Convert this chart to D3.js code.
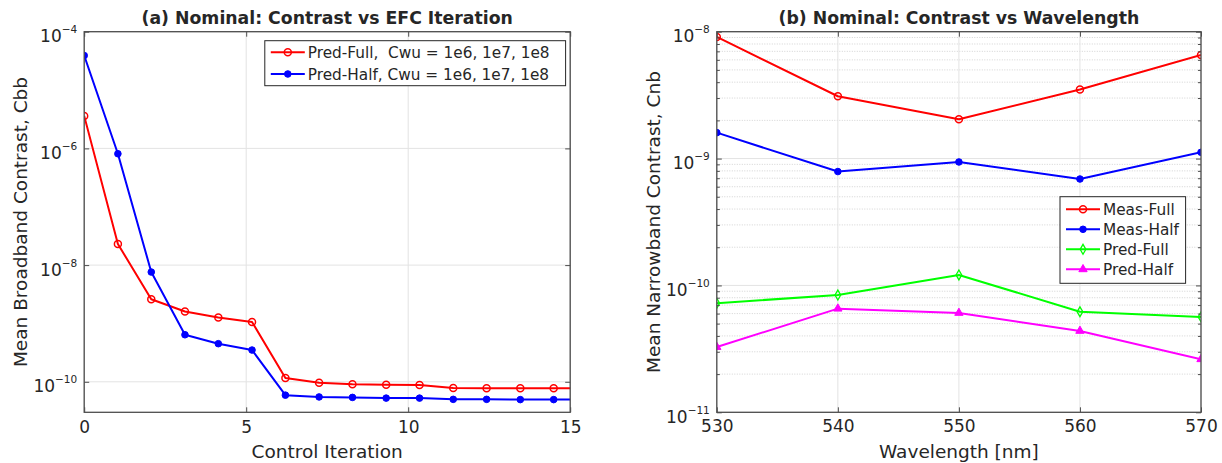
<!DOCTYPE html>
<html>
<head>
<meta charset="utf-8">
<script src="https://cdn.jsdelivr.net/npm/d3@7"></script>
<style>
body { margin: 0; background: #fff; }
svg text { font-family: "DejaVu Sans", Verdana, sans-serif; fill: #262626; }
</style>
</head>
<body>
<svg id="chart" width="1222" height="463"></svg>
<script>
// ---- panel (a): contrast vs EFC iteration ----
var iterations   = [0, 1.04, 2.07, 3.11, 4.14, 5.18, 6.21, 7.25, 8.28, 9.32, 10.35, 11.39, 12.42, 13.46, 14.49, 15.53];
var predFullIter = [3.6e-6, 2.3e-8, 2.6e-9, 1.6e-9, 1.26e-9, 1.06e-9, 1.16e-10, 9.6e-11, 9.1e-11, 8.9e-11, 8.8e-11, 7.8e-11, 7.75e-11, 7.75e-11, 7.75e-11, 7.75e-11];
var predHalfIter = [3.9e-5, 8.1e-7, 7.6e-9, 6.4e-10, 4.5e-10, 3.5e-10, 5.9e-11, 5.5e-11, 5.4e-11, 5.25e-11, 5.25e-11, 5.0e-11, 5.0e-11, 4.95e-11, 4.95e-11, 4.95e-11];
var iterTicks    = [0, 5, 10, 15];
var cbbTicks     = [1e-4, 1e-6, 1e-8, 1e-10];
var iterNames    = ["Pred-Full,  Cwu = 1e6, 1e7, 1e8", "Pred-Half, Cwu = 1e6, 1e7, 1e8"];

// ---- panel (b): contrast vs wavelength ----
var wavelengths = [530, 540, 550, 560, 570];
var measFull    = [9.1e-9, 3.1e-9, 2.04e-9, 3.5e-9, 6.55e-9];
var measHalf    = [1.6e-9, 7.9e-10, 9.4e-10, 6.9e-10, 1.12e-9];
var predFull    = [7.25e-11, 8.4e-11, 1.21e-10, 6.2e-11, 5.65e-11];
var predHalf    = [3.27e-11, 6.56e-11, 6.07e-11, 4.38e-11, 2.62e-11];
var waveTicks   = [530, 540, 550, 560, 570];
var cnbTicks    = [1e-8, 1e-9, 1e-10, 1e-11];
var waveNames   = ["Meas-Full", "Meas-Half", "Pred-Full", "Pred-Half"];

var svg = d3.select("#chart");
var axisColor = "#4d4d4d", gridColor = "#e3e3e3";

// marker painters
function drawMarker(g, type, color, x, y) {
    if (type == "circleOpen") {
        g.append("circle").attr("cx", x).attr("cy", y).attr("r", 3.5)
            .attr("fill", "none").attr("stroke", color).attr("stroke-width", 1.5);
    } else if (type == "circleFill") {
        g.append("circle").attr("cx", x).attr("cy", y).attr("r", 3.3)
            .attr("fill", color).attr("stroke", color);
    } else if (type == "diamond") {
        g.append("path").attr("d", d3.symbol(d3.symbolDiamond, 28)())
            .attr("transform", "translate(" + x + "," + y + ")")
            .attr("fill", "none").attr("stroke", color).attr("stroke-width", 1.3);
    } else if (type == "triangle") {
        g.append("path").attr("d", d3.symbol(d3.symbolTriangle, 30)())
            .attr("transform", "translate(" + x + "," + y + ")")
            .attr("fill", color).attr("stroke", color);
    }
}

// write 10^n labels on a log axis
function powerLabels(sel) {
    sel.selectAll(".tick text").each(function(d) {
        var t = d3.select(this).text(null);
        t.append("tspan").text("10");
        t.append("tspan").attr("dy", -9).attr("font-size", 10.5).text("\u2212" + Math.round(-Math.log10(d)));
    }).attr("dy", "0.6em").attr("font-size", 17);
}

function drawPanel(p) {
    var g = svg.append("g");
    var x = d3.scaleLinear().domain(p.xDomain).range([p.left, p.right]);
    var y = d3.scaleLog().domain(p.yDomain).range([p.bottom, p.top]);

    var clipId = "clip" + p.id;
    svg.append("clipPath").attr("id", clipId).append("rect")
        .attr("x", p.left).attr("y", p.top)
        .attr("width", p.right - p.left).attr("height", p.bottom - p.top);

    // minor grid (dotted)
    if (p.minor) {
        g.selectAll(".minor").data(p.minor).enter().append("line")
            .attr("x1", p.left).attr("x2", p.right)
            .attr("y1", function(d) { return y(d); }).attr("y2", function(d) { return y(d); })
            .attr("stroke", "#c8c8c8").attr("stroke-width", 0.8).attr("stroke-dasharray", "1,1.5");
    }
    // major grid
    g.selectAll(".gx").data(p.xTicks).enter().append("line")
        .attr("x1", function(d) { return x(d); }).attr("x2", function(d) { return x(d); })
        .attr("y1", p.top).attr("y2", p.bottom)
        .attr("stroke", gridColor).attr("stroke-width", 1);
    g.selectAll(".gy").data(p.yTicks).enter().append("line")
        .attr("x1", p.left).attr("x2", p.right)
        .attr("y1", function(d) { return y(d); }).attr("y2", function(d) { return y(d); })
        .attr("stroke", gridColor).attr("stroke-width", 1);

    // series
    var plot = g.append("g").attr("clip-path", "url(#" + clipId + ")");
    p.series.forEach(function(s) {
        var pts = p.xs.map(function(v, i) { return [v, s.values[i]]; });
        var line = d3.line().x(function(d) { return x(d[0]); }).y(function(d) { return y(d[1]); });
        plot.append("path").datum(pts).attr("d", line)
            .attr("fill", "none").attr("stroke", s.color).attr("stroke-width", 2)
            .attr("stroke-linejoin", "round");
        pts.forEach(function(d) {
            if (d[0] <= p.xDomain[1] + 1e-9) drawMarker(plot, s.marker, s.color, x(d[0]), y(d[1]));
        });
    });

    // axes (ticks inward)
    var xa = g.append("g").attr("transform", "translate(0," + p.bottom + ")")
        .call(d3.axisBottom(x).tickValues(p.xTicks).tickSize(-5).tickSizeOuter(0).tickPadding(p.xPad));
    xa.selectAll("text").attr("font-size", 17).attr("font-family", "DejaVu Sans, Verdana, sans-serif");
    g.append("g").attr("transform", "translate(0," + p.top + ")")
        .call(d3.axisTop(x).tickValues(p.xTicks).tickSize(-5).tickSizeOuter(0).tickFormat(""));
    var ya = g.append("g").attr("transform", "translate(" + p.left + ",0)")
        .call(d3.axisLeft(y).tickValues(p.yTicks).tickSize(-5).tickSizeOuter(0).tickPadding(7));
    powerLabels(ya);
    ya.selectAll("text").attr("font-family", "DejaVu Sans, Verdana, sans-serif");
    g.append("g").attr("transform", "translate(" + p.right + ",0)")
        .call(d3.axisRight(y).tickValues(p.yTicks).tickSize(-5).tickSizeOuter(0).tickFormat(""));
    if (p.minor) {
        g.append("g").attr("transform", "translate(" + p.left + ",0)")
            .call(d3.axisLeft(y).tickValues(p.minor).tickSize(-3).tickSizeOuter(0).tickFormat(""));
        g.append("g").attr("transform", "translate(" + p.right + ",0)")
            .call(d3.axisRight(y).tickValues(p.minor).tickSize(-3).tickSizeOuter(0).tickFormat(""));
    }
    g.selectAll(".domain").remove();
    g.selectAll(".tick line").attr("stroke", axisColor);
    g.selectAll(".tick text").attr("fill", "#262626");

    // frame
    g.append("rect").attr("x", p.left).attr("y", p.top)
        .attr("width", p.right - p.left).attr("height", p.bottom - p.top)
        .attr("fill", "none").attr("stroke", axisColor).attr("stroke-width", 1.3);

    // titles
    var cx = (p.left + p.right) / 2;
    g.append("text").attr("x", cx).attr("y", 24).attr("text-anchor", "middle")
        .attr("font-size", 17.3).attr("font-weight", "bold").attr("fill", "#000").text(p.title);
    g.append("text").attr("x", cx).attr("y", 458).attr("text-anchor", "middle")
        .attr("font-size", 18.5).text(p.xLabel);
    g.append("text").attr("transform", "translate(" + p.yLabelX + "," + (p.top + p.bottom) / 2 + ") rotate(-90)")
        .attr("text-anchor", "middle").attr("font-size", 18.5).text(p.yLabel);

    // legend
    var L = p.legend;
    var lg = g.append("g");
    lg.append("rect").attr("x", L.x).attr("y", L.y).attr("width", L.w).attr("height", L.h)
        .attr("fill", "#fff").attr("stroke", "#262626").attr("stroke-width", 1);
    p.series.forEach(function(s, i) {
        var yy = L.y + L.first + i * L.step;
        lg.append("line").attr("x1", L.x + 6).attr("x2", L.x + 40).attr("y1", yy).attr("y2", yy)
            .attr("stroke", s.color).attr("stroke-width", 2);
        drawMarker(lg, s.marker, s.color, L.x + 23, yy);
        lg.append("text").attr("x", L.x + 43).attr("y", yy).attr("dy", "0.36em")
            .attr("font-size", 15.3).attr("fill", "#000").style("white-space", "pre").text(s.name);
    });
}

drawPanel({
    id: "a", left: 84.2, right: 570.2, top: 31.7, bottom: 412.3, xPad: 9,
    xDomain: [0, 15], yDomain: [3e-11, 1e-4],
    xTicks: iterTicks, yTicks: cbbTicks, xs: iterations,
    title: "(a) Nominal: Contrast vs EFC Iteration",
    xLabel: "Control Iteration", yLabel: "Mean Broadband Contrast, Cbb", yLabelX: 26.5,
    series: [
        {name: iterNames[0], values: predFullIter, color: "#ff0000", marker: "circleOpen"},
        {name: iterNames[1], values: predHalfIter, color: "#0000ff", marker: "circleFill"}
    ],
    legend: {x: 264.8, y: 40.7, w: 300.8, h: 45, first: 11.6, step: 21.7}
});

var minorTicks = [];
[-11, -10, -9].forEach(function(e) {
    for (var m = 2; m <= 9; m++) minorTicks.push(m * Math.pow(10, e));
});

drawPanel({
    id: "b", left: 716.8, right: 1201, top: 31.7, bottom: 412.3, xPad: 8,
    xDomain: [530, 570], yDomain: [1e-11, 1e-8],
    xTicks: waveTicks, yTicks: cnbTicks, xs: wavelengths, minor: minorTicks,
    title: "(b) Nominal: Contrast vs Wavelength",
    xLabel: "Wavelength [nm]", yLabel: "Mean Narrowband Contrast, Cnb", yLabelX: 660,
    series: [
        {name: waveNames[0], values: measFull, color: "#ff0000", marker: "circleOpen"},
        {name: waveNames[1], values: measHalf, color: "#0000ff", marker: "circleFill"},
        {name: waveNames[2], values: predFull, color: "#00ff00", marker: "diamond"},
        {name: waveNames[3], values: predHalf, color: "#ff00ff", marker: "triangle"}
    ],
    legend: {x: 1060, y: 196.7, w: 125.6, h: 86.6, first: 12.6, step: 20}
});
</script>
</body>
</html>
